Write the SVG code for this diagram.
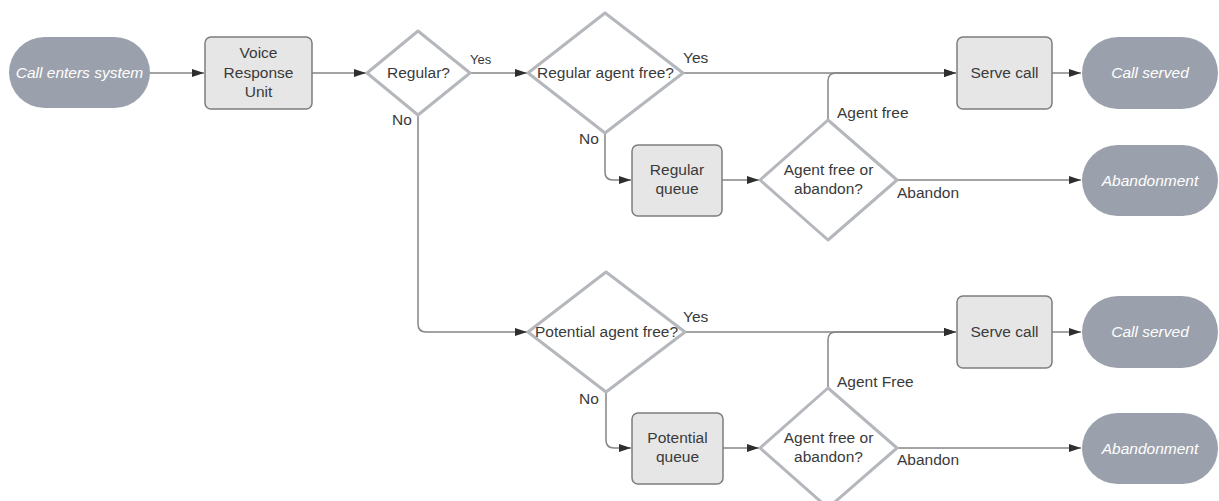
<svg xmlns="http://www.w3.org/2000/svg" width="1219" height="501" viewBox="0 0 1219 501">
<style>
.bg{fill:#ffffff}
.term{fill:#9ba1ac}
.termt{fill:#ffffff;font-family:"Liberation Sans",Arial,sans-serif;font-size:15.5px;font-style:italic;text-anchor:middle}
.box{fill:#e6e6e6;stroke:#7d7d7d;stroke-width:1.5}
.dia{fill:#ffffff;stroke:#b4b7bc;stroke-width:3;stroke-linejoin:round}
.t{fill:#3a3a3a;font-family:"Liberation Sans",Arial,sans-serif;font-size:15.5px;text-anchor:middle}
.lbl{fill:#3a3a3a;font-family:"Liberation Sans",Arial,sans-serif;font-size:15.5px}
.c{fill:none;stroke:#858585;stroke-width:1.5}
</style>
<defs>
<marker id="ah" viewBox="0 0 12 10" refX="12" refY="5" markerWidth="12" markerHeight="10" markerUnits="userSpaceOnUse" orient="auto">
<path d="M0,1 L12,5 L0,9 z" fill="#2e2e2e"/>
</marker>
</defs>
<rect class="bg" x="0" y="0" width="1219" height="501"/>
<g id="connectors">
<path class="c" d="M150,73 H204" marker-end="url(#ah)"/>
<path class="c" d="M312,73 H366" marker-end="url(#ah)"/>
<path class="c" d="M470,73 H527" marker-end="url(#ah)"/>
<path class="c" d="M683,73 H956" marker-end="url(#ah)"/>
<path class="c" d="M828,120 V81 Q828,73 836,73 H956" marker-end="url(#ah)"/>
<path class="c" d="M1052,73 H1081" marker-end="url(#ah)"/>
<path class="c" d="M605,133 V172 Q605,180 613,180 H631" marker-end="url(#ah)"/>
<path class="c" d="M722,180 H759" marker-end="url(#ah)"/>
<path class="c" d="M897,180 H1081" marker-end="url(#ah)"/>
<path class="c" d="M418,115 V324 Q418,332 426,332 H527" marker-end="url(#ah)"/>
<path class="c" d="M685,332 H956" marker-end="url(#ah)"/>
<path class="c" d="M828,388 V340 Q828,332 836,332 H956" marker-end="url(#ah)"/>
<path class="c" d="M1052,332 H1081" marker-end="url(#ah)"/>
<path class="c" d="M606,392 V440 Q606,448 614,448 H631" marker-end="url(#ah)"/>
<path class="c" d="M723,448 H759" marker-end="url(#ah)"/>
<path class="c" d="M897,448 H1081" marker-end="url(#ah)"/>
<text class="lbl" x="470" y="64" style="font-size:13px">Yes</text>
<text class="lbl" x="683" y="63">Yes</text>
<text class="lbl" x="392" y="125">No</text>
<text class="lbl" x="579" y="144">No</text>
<text class="lbl" x="837" y="118">Agent free</text>
<text class="lbl" x="897" y="198">Abandon</text>
<text class="lbl" x="683" y="322">Yes</text>
<text class="lbl" x="579" y="404">No</text>
<text class="lbl" x="837" y="387">Agent Free</text>
<text class="lbl" x="897" y="465">Abandon</text>
</g>
<g id="call-enters">
<rect class="term" x="9" y="37" width="141" height="71" rx="35.5"/>
<text class="termt" x="79.5" y="78">Call enters system</text>
</g>
<g id="vru">
<rect class="box" x="205" y="37" width="107" height="72" rx="6"/>
<text class="t" x="258.5" y="57.5">Voice</text>
<text class="t" x="258.5" y="77.5">Response</text>
<text class="t" x="258.5" y="97">Unit</text>
</g>
<g id="regular">
<polygon class="dia" points="418,31 470,73 418,115 367,73"/>
<text class="t" x="418.5" y="78">Regular?</text>
</g>
<g id="regular-agent-free">
<polygon class="dia" points="605,13 683,73 605,133 528,73"/>
<text class="t" x="605.5" y="78">Regular agent free?</text>
</g>
<g id="regular-queue">
<rect class="box" x="632" y="145" width="90" height="71" rx="6"/>
<text class="t" x="677" y="174.5">Regular</text>
<text class="t" x="677" y="194">queue</text>
</g>
<g id="agent-free-or-abandon-1">
<polygon class="dia" points="828,120 897,180 828,240 760,180"/>
<text class="t" x="828.5" y="174.5">Agent free or</text>
<text class="t" x="828.5" y="194">abandon?</text>
</g>
<g id="serve-call-1">
<rect class="box" x="957" y="37" width="95" height="72" rx="6"/>
<text class="t" x="1004.5" y="78">Serve call</text>
</g>
<g id="call-served-1">
<rect class="term" x="1082" y="37" width="136" height="72" rx="36"/>
<text class="termt" x="1150" y="78">Call served</text>
</g>
<g id="abandonment-1">
<rect class="term" x="1082" y="145" width="136" height="71" rx="35.5"/>
<text class="termt" x="1150" y="185.5">Abandonment</text>
</g>
<g id="potential-agent-free">
<polygon class="dia" points="606,272 685,332 606,392 528,332"/>
<text class="t" x="606.5" y="337">Potential agent free?</text>
</g>
<g id="potential-queue">
<rect class="box" x="632" y="413" width="91" height="71" rx="6"/>
<text class="t" x="677.5" y="442.5">Potential</text>
<text class="t" x="677.5" y="462">queue</text>
</g>
<g id="agent-free-or-abandon-2">
<polygon class="dia" points="828,388 897,448 828,508 760,448"/>
<text class="t" x="828.5" y="442.5">Agent free or</text>
<text class="t" x="828.5" y="462">abandon?</text>
</g>
<g id="serve-call-2">
<rect class="box" x="957" y="296" width="95" height="72" rx="6"/>
<text class="t" x="1004.5" y="337">Serve call</text>
</g>
<g id="call-served-2">
<rect class="term" x="1082" y="296" width="136" height="72" rx="36"/>
<text class="termt" x="1150" y="337">Call served</text>
</g>
<g id="abandonment-2">
<rect class="term" x="1082" y="413" width="136" height="71" rx="35.5"/>
<text class="termt" x="1150" y="453.5">Abandonment</text>
</g>
</svg>
